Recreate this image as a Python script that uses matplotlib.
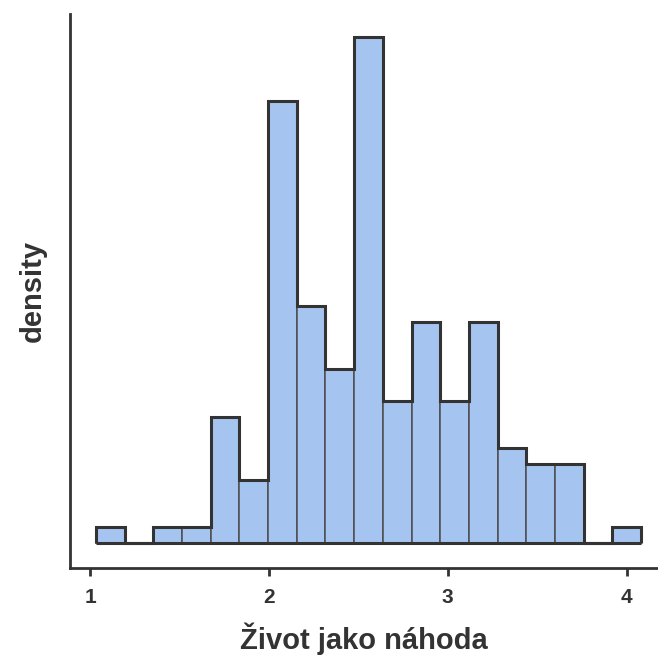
import matplotlib
matplotlib.use("Agg")
import matplotlib.pyplot as plt
import numpy as np

# Data
bin_start = 1.033
bin_width = 0.1604
counts = [1, 0, 1, 1, 8, 4, 28, 15, 11, 32, 9, 14, 9, 14, 6, 5, 5, 0, 1]
x_ticks = [1, 2, 3, 4]
x_label = "Život jako náhoda"
y_label = "density"

counts = np.array(counts, dtype=float)
edges = bin_start + bin_width * np.arange(len(counts) + 1)
density = counts / (counts.sum() * bin_width)

plt.rcParams['font.family'] = ['Liberation Sans', 'DejaVu Sans']

fig = plt.figure(figsize=(6.58, 6.66), dpi=100)
ax = fig.add_axes([70/658, (666-568)/666, 1 - 70/658, (568-14)/666])

fill = '#A6C4F0'
dark = '#333333'
ax.bar(edges[:-1], density, width=np.diff(edges), align='edge',
       color=fill, edgecolor='#4d4d4d', linewidth=1.1, zorder=2)
ax.stairs(density, edges, baseline=0, fill=False, color=dark,
          linewidth=2.2, zorder=3)
ax.hlines(0, edges[0], edges[-1], color=dark, linewidth=2.2, zorder=3)

unit = density.max() / 32.0
ax.set_ylim(-1.58 * unit, 33.48 * unit)
ax.set_xlim(0.888, 4.175)

ax.set_xticks(x_ticks)
ax.set_xticklabels([str(t) for t in x_ticks], fontweight='bold')
ax.set_yticks([])
for s in ['top', 'right']:
    ax.spines[s].set_visible(False)
for s in ['left', 'bottom']:
    ax.spines[s].set_linewidth(2.0)
    ax.spines[s].set_color(dark)
ax.tick_params(axis='x', length=5.5, width=2.0, color=dark, pad=9,
               labelsize=15, labelcolor=dark)

ax.set_xlabel(x_label, fontsize=21, color=dark, labelpad=11, fontweight='bold')
ax.set_ylabel(y_label, fontsize=21, color=dark, labelpad=17, fontweight='bold')

fig.savefig("out.png", dpi=100)
